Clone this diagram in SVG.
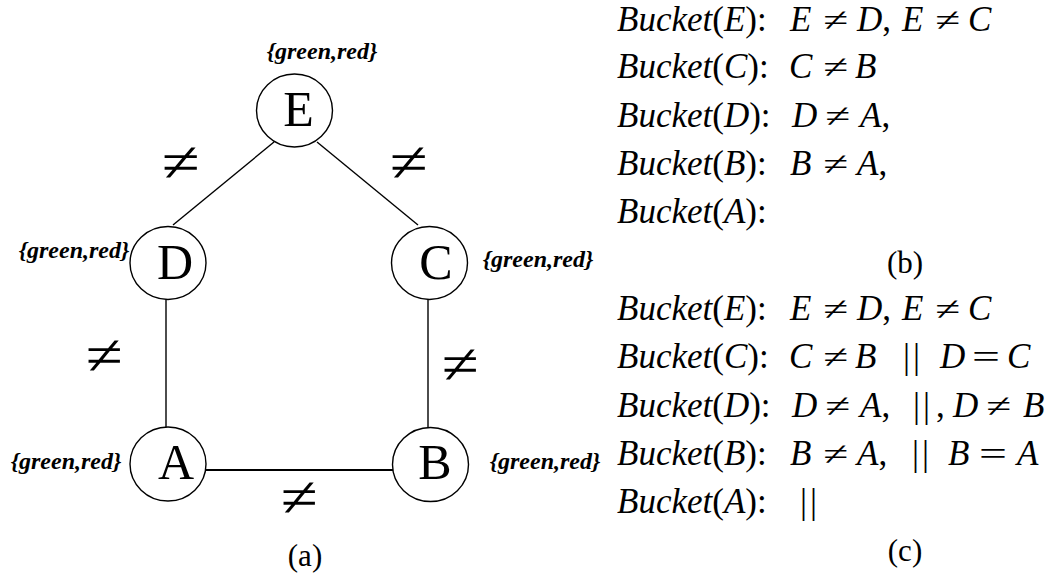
<svg xmlns="http://www.w3.org/2000/svg" width="1055" height="577" viewBox="0 0 1055 577">
<style>
.node ellipse{fill:#fff;stroke:#000;stroke-width:1.4}
.lbl{font-family:"Liberation Serif",serif;font-size:50px;text-anchor:middle}
.dom{font-family:"Liberation Serif",serif;font-size:24px;font-weight:bold;font-style:italic;text-anchor:middle}
.ne{font-family:"Liberation Serif",serif;font-size:56px}
.edges line{stroke:#000;stroke-width:1.4}
.m{font-family:"Liberation Serif",serif;font-size:35px}
.i{font-style:italic}
.op{font-family:"Liberation Serif",serif;font-size:33px}
.bar{letter-spacing:3px}
.cap{font-family:"Liberation Serif",serif;font-size:31px;text-anchor:middle}
</style>
<rect width="1055" height="577" fill="#fff"/>
<g id="connectors" class="edges">
<line x1="274" y1="142" x2="173" y2="225"/>
<line x1="317" y1="142" x2="418" y2="225"/>
<line x1="166" y1="299" x2="166" y2="428"/>
<line x1="428" y1="299" x2="428" y2="428"/>
<line x1="199" y1="470" x2="393" y2="470" style="stroke-width:2"/>
</g>
<g id="edge-labels">
<text class="ne" x="162" y="181" textLength="38" lengthAdjust="spacingAndGlyphs">≠</text>
<text class="ne" x="390" y="181" textLength="38" lengthAdjust="spacingAndGlyphs">≠</text>
<text class="ne" x="86" y="374" textLength="37" lengthAdjust="spacingAndGlyphs">≠</text>
<text class="ne" x="442" y="383" textLength="37" lengthAdjust="spacingAndGlyphs">≠</text>
<text class="ne" x="281" y="516" textLength="37" lengthAdjust="spacingAndGlyphs">≠</text>
</g>
<g id="node-E" class="node">
<ellipse cx="294.5" cy="110.5" rx="38" ry="36.5"/>
<text class="lbl" x="298.5" y="126">E</text>
<text class="dom" x="322" y="59">{green,red}</text>
</g>
<g id="node-D" class="node">
<ellipse cx="168" cy="263" rx="38" ry="36.5"/>
<text class="lbl" x="175" y="279">D</text>
<text class="dom" x="74" y="258">{green,red}</text>
</g>
<g id="node-C" class="node">
<ellipse cx="429.5" cy="263" rx="38" ry="36.5"/>
<text class="lbl" x="436" y="279">C</text>
<text class="dom" x="538" y="267">{green,red}</text>
</g>
<g id="node-A" class="node">
<ellipse cx="168" cy="464" rx="38" ry="37"/>
<text class="lbl" x="176" y="479">A</text>
<text class="dom" x="66" y="469">{green,red}</text>
</g>
<g id="node-B" class="node">
<ellipse cx="430.5" cy="464.5" rx="38" ry="37"/>
<text class="lbl" x="435" y="479">B</text>
<text class="dom" x="545" y="469">{green,red}</text>
</g>
<text class="cap" x="305" y="566">(a)</text>
<g id="buckets-b">
<text class="m" y="31"><tspan x="617" class="i">Bucket</tspan>(<tspan class="i">E</tspan>):<tspan x="790" class="i">E</tspan><tspan x="857" class="i">D</tspan>,<tspan x="902" class="i">E</tspan><tspan x="968" class="i">C</tspan></text>
<text class="op" x="823" y="31" textLength="25" lengthAdjust="spacingAndGlyphs">≠</text>
<text class="op" x="935" y="31" textLength="25" lengthAdjust="spacingAndGlyphs">≠</text>
<text class="m" y="78"><tspan x="617" class="i">Bucket</tspan>(<tspan class="i">C</tspan>):<tspan x="789" class="i">C</tspan><tspan x="855" class="i">B</tspan></text>
<text class="op" x="823" y="78" textLength="25" lengthAdjust="spacingAndGlyphs">≠</text>
<text class="m" y="127"><tspan x="617" class="i">Bucket</tspan>(<tspan class="i">D</tspan>):<tspan x="792" class="i">D</tspan><tspan x="860" class="i">A</tspan>,</text>
<text class="op" x="825" y="127" textLength="25" lengthAdjust="spacingAndGlyphs">≠</text>
<text class="m" y="175"><tspan x="617" class="i">Bucket</tspan>(<tspan class="i">B</tspan>):<tspan x="790" class="i">B</tspan><tspan x="857" class="i">A</tspan>,</text>
<text class="op" x="823" y="175" textLength="25" lengthAdjust="spacingAndGlyphs">≠</text>
<text class="m" y="223"><tspan x="617" class="i">Bucket</tspan>(<tspan class="i">A</tspan>):</text>
<text class="cap" x="905" y="273">(b)</text>
</g>
<g id="buckets-c">
<text class="m" y="320"><tspan x="617" class="i">Bucket</tspan>(<tspan class="i">E</tspan>):<tspan x="790" class="i">E</tspan><tspan x="857" class="i">D</tspan>,<tspan x="902" class="i">E</tspan><tspan x="968" class="i">C</tspan></text>
<text class="op" x="823" y="320" textLength="25" lengthAdjust="spacingAndGlyphs">≠</text>
<text class="op" x="935" y="320" textLength="25" lengthAdjust="spacingAndGlyphs">≠</text>
<text class="m" y="368"><tspan x="617" class="i">Bucket</tspan>(<tspan class="i">C</tspan>):<tspan x="789" class="i">C</tspan><tspan x="855" class="i">B</tspan><tspan x="903" class="bar">||</tspan><tspan x="940" class="i">D</tspan><tspan x="1007" class="i">C</tspan></text>
<text class="op" x="823" y="368" textLength="25" lengthAdjust="spacingAndGlyphs">≠</text>
<text class="op" x="972" y="368" textLength="28" lengthAdjust="spacingAndGlyphs">=</text>
<text class="m" y="417"><tspan x="617" class="i">Bucket</tspan>(<tspan class="i">D</tspan>):<tspan x="792" class="i">D</tspan><tspan x="860" class="i">A</tspan>,<tspan x="913" class="bar">||</tspan><tspan x="936">,</tspan><tspan x="953" class="i">D</tspan><tspan x="1023" class="i">B</tspan></text>
<text class="op" x="825" y="417" textLength="25" lengthAdjust="spacingAndGlyphs">≠</text>
<text class="op" x="986" y="417" textLength="25" lengthAdjust="spacingAndGlyphs">≠</text>
<text class="m" y="465"><tspan x="617" class="i">Bucket</tspan>(<tspan class="i">B</tspan>):<tspan x="790" class="i">B</tspan><tspan x="857" class="i">A</tspan>,<tspan x="912" class="bar">||</tspan><tspan x="948" class="i">B</tspan><tspan x="1017" class="i">A</tspan></text>
<text class="op" x="823" y="465" textLength="25" lengthAdjust="spacingAndGlyphs">≠</text>
<text class="op" x="979" y="465" textLength="28" lengthAdjust="spacingAndGlyphs">=</text>
<text class="m" y="513"><tspan x="617" class="i">Bucket</tspan>(<tspan class="i">A</tspan>):<tspan x="800" class="bar">||</tspan></text>
<text class="cap" x="905" y="561">(c)</text>
</g>
</svg>
